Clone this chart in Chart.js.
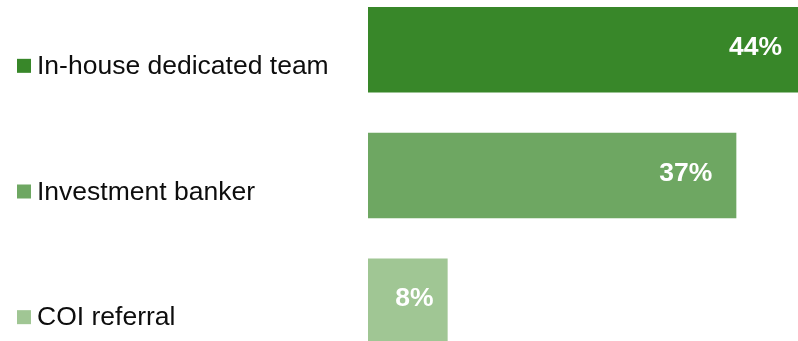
<!DOCTYPE html>
<html>
<head>
<meta charset="utf-8">
<script src="https://cdn.jsdelivr.net/npm/chart.js@4/dist/chart.umd.min.js"></script>
<style>
  html, body { margin: 0; padding: 0; background: #fff; overflow: hidden; }
  #wrap { position: absolute; left: 0; top: -13px; width: 812px; height: 377px; }
</style>
</head>
<body>
<div id="wrap"><canvas id="chart"></canvas></div>
<script>
// Who handles the sale process
const categories = ['In-house dedicated team', 'Investment banker', 'COI referral'];
const shares = [44, 37, 8];
const barColors = ['#388729', '#6EA762', '#A0C694'];

const FONT = '"Liberation Sans", Arial, sans-serif';

// category names with a colored square, drawn left of the plot area
const sideLabels = {
  id: 'sideLabels',
  afterDraw(chart) {
    const { ctx, scales: { y } } = chart;
    ctx.save();
    ctx.font = `26.5px ${FONT}`;
    ctx.textBaseline = 'middle';
    ctx.textAlign = 'left';
    categories.forEach((name, i) => {
      const cy = y.getPixelForValue(i) + 16;
      ctx.fillStyle = barColors[i];
      ctx.fillRect(17, cy - 7, 14, 14);
      ctx.fillStyle = '#0d0d0d';
      ctx.fillText(name, 37, cy + 1);
    });
    ctx.restore();
  }
};

// percentage inside the end of each bar
const valueLabels = {
  id: 'valueLabels',
  afterDatasetsDraw(chart) {
    const { ctx } = chart;
    const meta = chart.getDatasetMeta(0);
    ctx.save();
    ctx.font = `bold 26.5px ${FONT}`;
    ctx.fillStyle = '#fff';
    ctx.textAlign = 'right';
    ctx.textBaseline = 'middle';
    meta.data.forEach((bar, i) => {
      const pad = shares[i] < 10 ? 14 : 24;
      ctx.fillText(shares[i] + '%', bar.x - pad, bar.y - 2);
    });
    ctx.restore();
  }
};

new Chart(document.getElementById('chart'), {
  type: 'bar',
  data: {
    labels: categories,
    datasets: [{
      data: shares,
      backgroundColor: barColors,
      borderWidth: 0,
      categoryPercentage: 0.68,
      barPercentage: 1
    }]
  },
  options: {
    indexAxis: 'y',
    responsive: true,
    maintainAspectRatio: false,
    animation: false,
    layout: { padding: { left: 368, right: 0, top: 0, bottom: 0 } },
    plugins: { legend: { display: false }, tooltip: { enabled: false } },
    scales: {
      x: { display: false, min: 0, max: 44.6 },
      y: { display: false }
    }
  },
  plugins: [sideLabels, valueLabels]
});
</script>
</body>
</html>
